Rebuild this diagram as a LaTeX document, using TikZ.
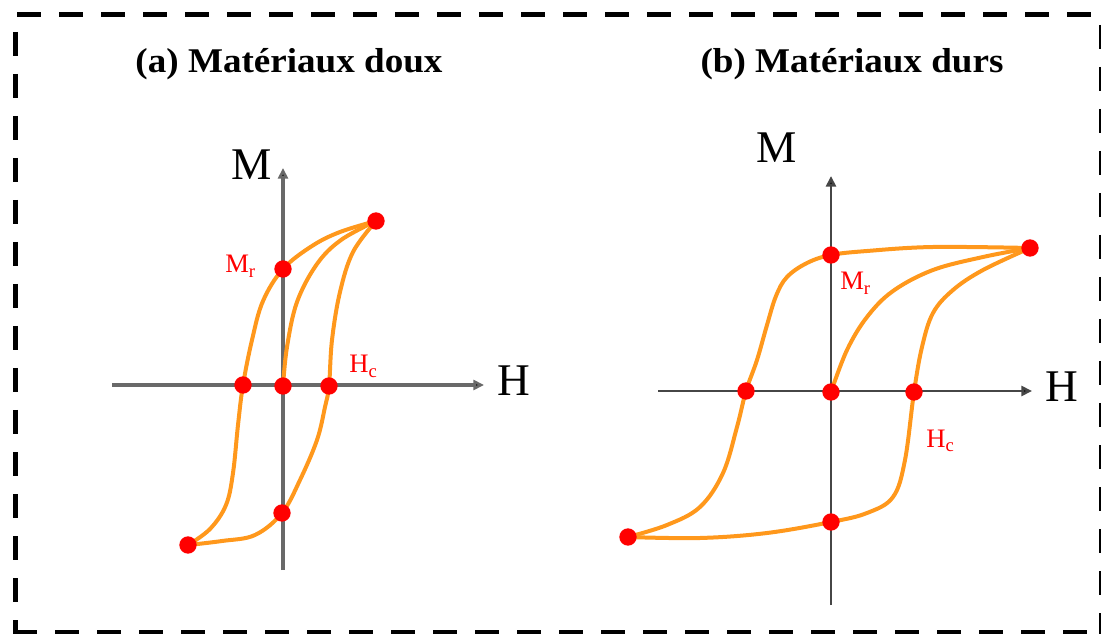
\documentclass[tikz,border=0pt]{standalone}
\usepackage{fontspec}
\setmainfont{Liberation Serif}
\usetikzlibrary{arrows.meta}
\definecolor{loopor}{RGB}{255,152,28}
\definecolor{dotred}{RGB}{255,0,0}
\definecolor{axgrayA}{RGB}{105,105,105}
\definecolor{axgrayB}{RGB}{70,70,70}
\tikzset{
  frameline/.style={line width=3.75pt, dash pattern=on 18pt off 13.5pt},
  axisA/.style={draw=axgrayA, line width=2.5pt, -{Triangle[length=8pt,width=7.5pt,fill=black]}},
  axisB/.style={draw=axgrayB, line width=2.2pt, -{Triangle[length=8pt,width=7.5pt,fill=black]}},
  loop/.style={draw=loopor, line width=3pt, line join=round, line cap=round},
  dot/.style={circle, fill=dotred, inner sep=0pt, minimum size=13pt},
  titletext/.style={font=\fontsize{26}{30}\selectfont\bfseries, anchor=base, inner sep=0pt},
  axlabel/.style={font=\fontsize{34}{38}\selectfont, anchor=base, inner sep=0pt},
  redlabel/.style={font=\fontsize{20}{24}\selectfont, text=dotred, anchor=base west, inner sep=0pt}
}
\begin{document}
\begin{tikzpicture}[x=0.75pt, y=-0.75pt]
\useasboundingbox (0,0) rectangle (1103,634);
% frame
\draw[frameline] (17,15) -- (1103,15);
\draw[frameline] (15,32) -- (15,634);
\draw[frameline] (13,632) -- (1103,632);
\draw[line width=1.5pt, dash pattern=on 18pt off 13.5pt] (1100,25) -- (1100,634);

% titles
\node[titletext] (tA) at (289,73) {\scalebox{1.07}[1]{(a) Matériaux doux}};
\node[titletext] (tB) at (852,73) {\scalebox{1.07}[1]{(b) Matériaux durs}};

% ---------- plot (a) ----------
\coordinate (aYb) at (283,570);
\coordinate (aYt) at (283,168);
\coordinate (aXl) at (112,385);
\coordinate (aXr) at (484,385);
\draw[axisA] (aYb) -- (aYt);
\draw[axisA] (aXl) -- (aXr);
\node[axlabel] (aM) at (252,180) {M};
\node[axlabel] (aH) at (514,396) {H};

\coordinate (aTip) at (376,221);
\coordinate (aMr) at (283,269);
\coordinate (aHl) at (243,385);
\coordinate (aO) at (283,386);
\coordinate (aHc) at (329,386);
\coordinate (aMb) at (282,513);
\coordinate (aBot) at (188,545);

\draw[loop] plot[smooth, tension=0.6] coordinates {(aTip) (340,232) (312,246) (aMr) (263,301) (252,340) (aHl) (238,425) (233,473) (226,505) (210,529) (aBot)};
\draw[loop] plot[smooth, tension=0.6] coordinates {(aBot) (222,541) (255,535) (aMb) (300,480) (317,440) (325,407) (aHc) (332,340) (340,292) (353,252) (aTip)};
\draw[loop] plot[smooth, tension=0.6] coordinates {(aO) (287,347) (297,302) (317,264) (341,240) (aTip)};

\foreach \p in {aTip,aMr,aHl,aO,aHc,aMb,aBot} \node[dot] (d\p) at (\p) {};
\node[redlabel] (aMrL) at (225,273) {M\textsubscript{r}};
\node[redlabel] (aHcL) at (349,373) {H\textsubscript{c}};

% ---------- plot (b) ----------
\coordinate (bYb) at (831,605);
\coordinate (bYt) at (831,176);
\coordinate (bXl) at (658,391);
\coordinate (bXr) at (1032,391);
\draw[axisB] (bYb) -- (bYt);
\draw[axisB] (bXl) -- (bXr);
\node[axlabel] (bM) at (777,163) {M};
\node[axlabel] (bH) at (1062,402) {H};

\coordinate (bTip) at (1030,248);
\coordinate (bMr) at (831,255);
\coordinate (bHl) at (746,391);
\coordinate (bO) at (831,392);
\coordinate (bHc) at (914,392);
\coordinate (bMb) at (831,522);
\coordinate (bBot) at (628,537);

\draw[loop] plot[smooth, tension=0.6] coordinates {(bTip) (933,247) (867,251) (bMr) (807,263) (787,277) (776,296) (767,325) (757,360) (bHl) (737,427) (723,473) (700,507) (667,525) (bBot)};
\draw[loop] plot[smooth, tension=0.6] coordinates {(bBot) (700,538) (767,533) (bMb) (867,513) (893,497) (905,460) (bHc) (922,347) (933,313) (953,290) (983,270) (bTip)};
\draw[loop] plot[smooth, tension=0.6] coordinates {(bO) (847,350) (867,317) (893,291) (933,270) (983,257) (bTip)};

\foreach \p in {bTip,bMr,bHl,bO,bHc,bMb,bBot} \node[dot] (d\p) at (\p) {};
\node[redlabel] (bMrL) at (840,290) {M\textsubscript{r}};
\node[redlabel] (bHcL) at (926,447) {H\textsubscript{c}};
\end{tikzpicture}
\end{document}
